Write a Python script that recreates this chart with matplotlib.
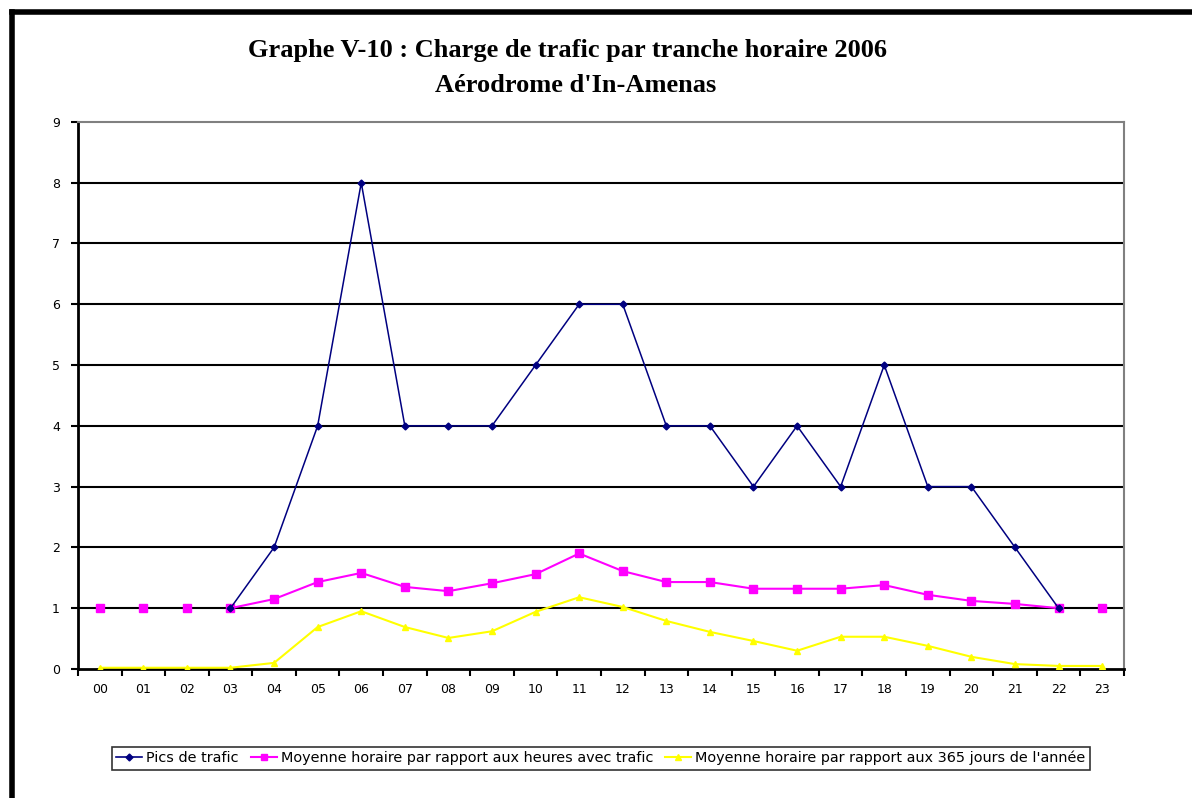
import numpy as np
import matplotlib
matplotlib.use("Agg")
import matplotlib.pyplot as plt
from matplotlib.lines import Line2D

# Données
heures = ["00", "01", "02", "03", "04", "05", "06", "07", "08", "09", "10", "11",
          "12", "13", "14", "15", "16", "17", "18", "19", "20", "21", "22", "23"]
pics = [np.nan, np.nan, np.nan, 1, 2, 4, 8, 4, 4, 4, 5, 6,
        6, 4, 4, 3, 4, 3, 5, 3, 3, 2, 1, np.nan]
moy_heures_trafic = [1, 1, 1, 1, 1.15, 1.43, 1.58, 1.35, 1.28, 1.41, 1.56, 1.9,
                     1.61, 1.43, 1.43, 1.32, 1.32, 1.32, 1.38, 1.22, 1.12, 1.07, 1.0, 1]
moy_365_jours = [0.02, 0.02, 0.02, 0.02, 0.1, 0.69, 0.95, 0.69, 0.51, 0.62, 0.94, 1.18,
                 1.02, 0.79, 0.61, 0.46, 0.3, 0.53, 0.53, 0.38, 0.2, 0.08, 0.05, 0.05]
labels = ["Pics de trafic",
          "Moyenne horaire par rapport aux heures avec trafic",
          "Moyenne horaire par rapport aux 365 jours de l'année"]

fig = plt.figure(figsize=(11.92, 7.98), dpi=100)
ax = fig.add_axes([0.0654, 0.1617, 0.8775, 0.6855])

x = np.arange(len(heures))
navy = "#000080"
magenta = "#FF00FF"
jaune = "#FFFF00"

# la série magenta : points isolés aux heures sans trafic, ligne de 03 à 22
m = np.array(moy_heures_trafic, dtype=float)
m_ligne = m.copy()
m_ligne[[0, 1, 2, 23]] = np.nan
ax.plot(x, m_ligne, color=magenta, lw=1.5, zorder=3)
ax.plot(x, m, ls="none", marker="s", ms=6, color=magenta, zorder=4)

ax.plot(x, moy_365_jours, color=jaune, lw=1.5, marker="^", ms=5, zorder=3)
ax.plot(x, pics, color=navy, lw=1.1, marker="D", ms=3.5, zorder=5)

ax.set_xlim(-0.5, len(heures) - 0.5)
ax.set_ylim(0, 9)
ax.set_yticks(range(0, 10))
ax.set_xticks(x)
ax.set_xticklabels(heures)
ax.set_xticks(np.arange(-0.5, len(heures)), minor=True)
ax.tick_params(axis="x", which="major", length=0, pad=10, labelsize=9)
ax.tick_params(axis="x", which="minor", length=5, width=1.5, direction="out")
ax.tick_params(axis="y", length=5, width=1.5, labelsize=9, pad=8)

for yv in range(1, 9):
    ax.axhline(yv, color="black", lw=1.5, zorder=1)

for side in ["top", "right"]:
    ax.spines[side].set_color("#808080")
    ax.spines[side].set_linewidth(1.5)
for side in ["left", "bottom"]:
    ax.spines[side].set_color("black")
    ax.spines[side].set_linewidth(2)

fig.text(0.476, 0.937, "Graphe V-10 : Charge de trafic par tranche horaire 2006",
         ha="center", va="center", fontsize=19, fontweight="bold",
         family="Liberation Serif")
fig.text(0.483, 0.893, "Aérodrome d'In-Amenas",
         ha="center", va="center", fontsize=19, fontweight="bold",
         family="Liberation Serif")

handles = [Line2D([], [], color=navy, marker="D", ms=3.5, lw=1.2),
           Line2D([], [], color=magenta, marker="s", ms=5, lw=1.5),
           Line2D([], [], color=jaune, marker="^", ms=5, lw=1.5)]
leg = fig.legend(handles, labels, loc="center", bbox_to_anchor=(0.504, 0.05),
                 ncol=3, frameon=True, fancybox=False, edgecolor="black",
                 fontsize=10.4, handlelength=1.8, handletextpad=0.3, columnspacing=0.8,
                 borderpad=0.3)
leg.get_frame().set_linewidth(1.2)

# cadre extérieur (seulement haut et gauche visibles)
fig.add_artist(Line2D([0.0101, 1.0], [0.985, 0.985], transform=fig.transFigure,
                      color="black", lw=4))
fig.add_artist(Line2D([0.0101, 0.0101], [0.0, 0.985], transform=fig.transFigure,
                      color="black", lw=4))

plt.savefig("out.png", dpi=100)
